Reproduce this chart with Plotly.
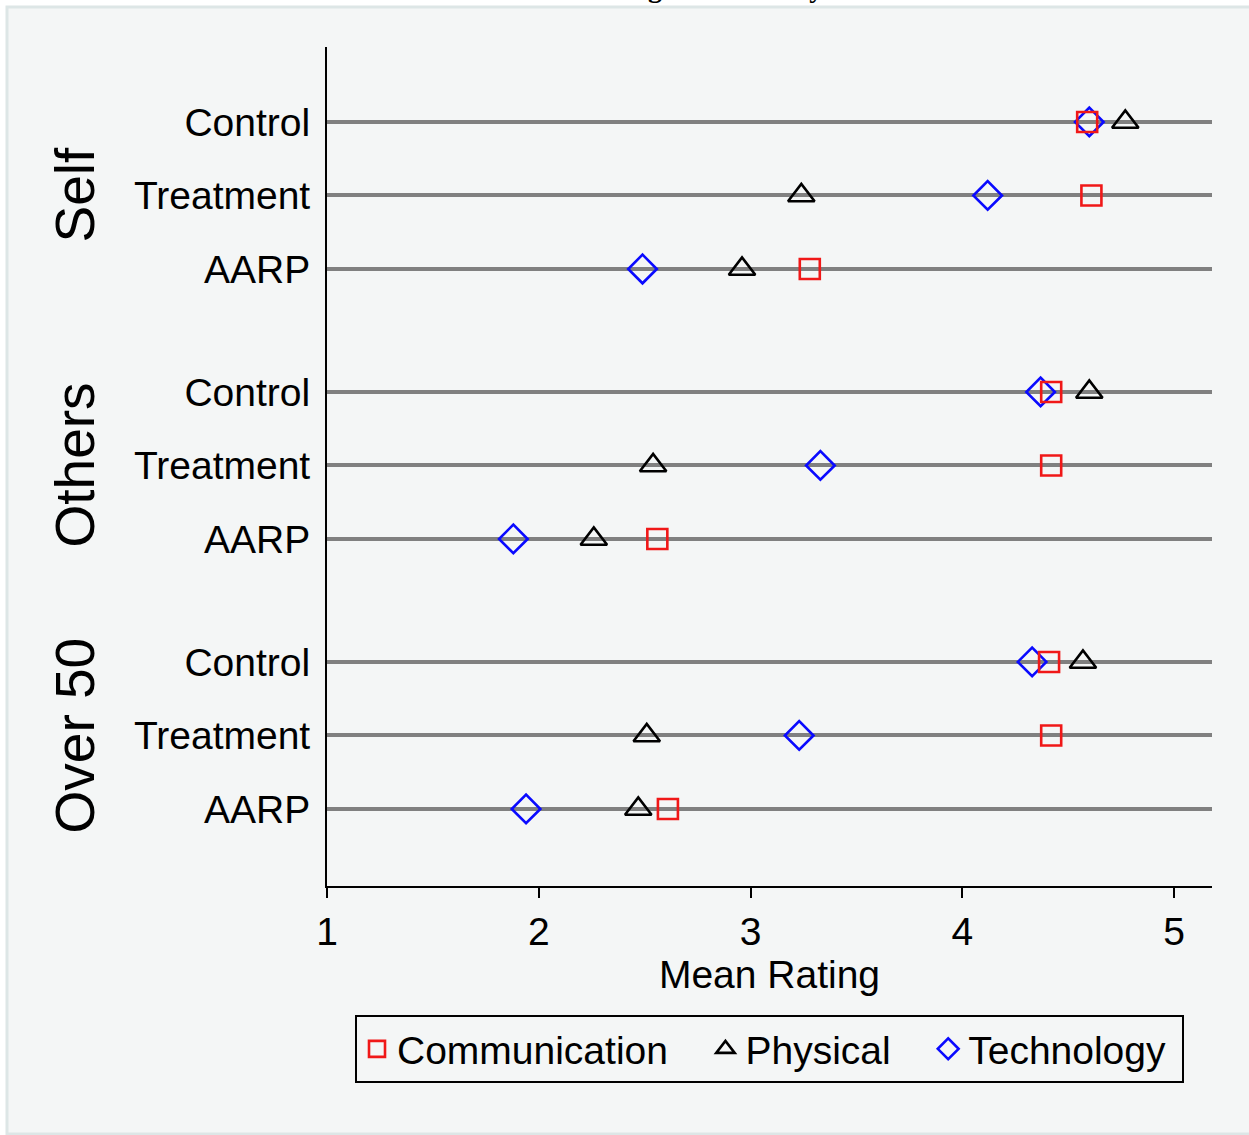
import plotly.graph_objects as go

# ---- data ----
groups = ["Self", "Others", "Over 50"]
conditions = ["Control", "Treatment", "AARP"]
communication = [4.59, 4.61, 3.28, 4.42, 4.42, 2.56, 4.41, 4.42, 2.61]
physical = [4.77, 3.24, 2.96, 4.60, 2.54, 2.26, 4.57, 2.51, 2.47]
technology = [4.60, 4.12, 2.49, 4.37, 3.33, 1.88, 4.33, 3.23, 1.94]
x_ticks = [1, 2, 3, 4, 5]

# ---- layout helpers ----
W, H = 1249, 1135
ML, MR, MT, MB = 327, 37, 47, 249
PW, PH = W - ML - MR, H - MT - MB
STRIDE = 3.673  # group spacing in row units

ypos = []
ylabels = []
for gi, g in enumerate(groups):
    for ri, c in enumerate(conditions):
        ypos.append(gi * STRIDE + ri)
        ylabels.append(c)

def px2paperx(px):
    return (px - ML) / PW

def px2papery(py):
    return (H - MB - py) / PH

FONT = "Liberation Sans, Arial, Helvetica, sans-serif"
FS = 39
BG = "#f4f6f6"

fig = go.Figure()

series = [
    ("Technology", technology, "diamond-open", "#0a0aff", 22, 3, 1),
    ("Physical", physical, "triangle-up-open", "#000000", 23, 2, 3),
    ("Communication", communication, "square-open", "#f01818", 20, 1, 3),
]
for name, vals, sym, col, size, rank, pad in series:
    fig.add_trace(go.Scatter(
        x=vals, y=ypos, mode="markers",
        name=name + "\u00a0" * pad,
        legendrank=rank,
        marker=dict(symbol=sym, size=size, color=col,
                    line=dict(color=col, width=2.6)),
        cliponaxis=False,
    ))

# panel background
fig.add_shape(type="rect", xref="paper", yref="paper",
              x0=px2paperx(7), x1=px2paperx(1262),
              y0=px2papery(1134), y1=px2papery(7),
              fillcolor=BG, line=dict(color="#dde6e6", width=3),
              layer="below")

# group labels
for gi, g in enumerate(groups):
    fig.add_annotation(x=px2paperx(75), xref="paper", y=gi * STRIDE + 1, yref="y",
                       text=g, textangle=-90, showarrow=False,
                       font=dict(family=FONT, size=55, color="black"),
                       xanchor="center", yanchor="middle")

# title, cut off at the top edge as in the reference
fig.add_annotation(x=0.5, xref="paper", y=px2papery(-12), yref="paper",
                   text="<b>Figure 6: Survey Results</b>", showarrow=False,
                   font=dict(family="Liberation Serif, Times New Roman, serif", size=28, color="black"),
                   xanchor="center", yanchor="middle")

fig.update_layout(
    width=W, height=H,
    margin=dict(l=ML, r=MR, t=MT, b=MB, pad=0),
    paper_bgcolor="white", plot_bgcolor=BG,
    font=dict(family=FONT, size=FS, color="black"),
    showlegend=True,
    legend=dict(orientation="h", x=0.5, xanchor="center",
                y=px2papery(1015), yanchor="top",
                bordercolor="black", borderwidth=2, bgcolor=BG,
                font=dict(family=FONT, size=FS, color="black"),
                traceorder="normal"),
    xaxis=dict(range=[1, 1 + PW / 211.75], tickvals=x_ticks,
               ticks="outside", ticklen=10, tickwidth=2, tickcolor="black",
               showline=True, linecolor="black", linewidth=2,
               showgrid=False, zeroline=False,
               title=dict(text="Mean Rating", standoff=6,
                          font=dict(family=FONT, size=FS)),
               tickfont=dict(family=FONT, size=FS)),
    yaxis=dict(range=[ypos[-1] + 1.048, -1.020], tickvals=ypos, ticktext=ylabels,
               ticks="", ticklabelstandoff=7,
               showline=True, linecolor="black", linewidth=2,
               showgrid=True, gridcolor="#808080", gridwidth=4,
               zeroline=False,
               tickfont=dict(family=FONT, size=FS)),
)

fig.write_html("out.html", config={"displayModeBar": False},
               post_script="document.body.style.margin='0px';")
